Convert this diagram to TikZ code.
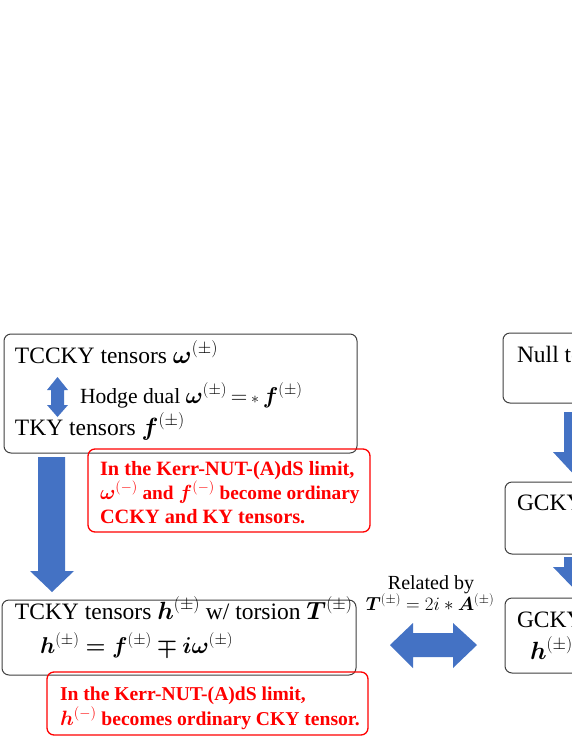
\documentclass[tikz,border=0pt]{standalone}
\usepackage{amsmath,bm}
\usepackage{fontspec}
\setmainfont{Liberation Serif}
\definecolor{arrowblue}{HTML}{4472C4}
\definecolor{boxgray}{HTML}{404040}
\definecolor{limitred}{HTML}{FF0000}
\tikzset{
  every node/.style={inner sep=0pt, outer sep=0pt},
  boxstyle/.style={draw=boxgray, line width=1pt, rounded corners=7pt, anchor=north west},
  redbox/.style={draw=limitred, line width=1.3pt, rounded corners=7pt, anchor=north west},
  txt/.style={anchor=base west, font=\fontsize{23.5}{28}\selectfont},
  redtxt/.style={anchor=base west, text=limitred, font=\fontsize{20.3}{24}\selectfont\bfseries},
  redtxtb/.style={anchor=base west, text=limitred, font=\fontsize{19.6}{24}\selectfont\bfseries},
  smalltxt/.style={anchor=base, font=\fontsize{20}{23}\selectfont},
  mathtxt/.style={anchor=base, font=\fontsize{23.5}{28}\selectfont},
  blockarrow/.style={fill=arrowblue, draw=none}
}
\begin{document}
\begin{tikzpicture}[x=1pt,y=-1pt]
\useasboundingbox (0,0) rectangle (572,740);
\clip (0,0) rectangle (572,740);
\fill[white] (0,0) rectangle (572,740);

% left boxes
\node[boxstyle, minimum width=353pt, minimum height=119pt] (b1) at (4,334) {};
\node[txt] (t1) at (15,363) {TCCKY tensors $\bm{\omega}^{(\pm)}$};
\node[txt] (t2) at (80,403) {\scalebox{0.92}{Hodge dual $\bm{\omega}^{(\pm)}\,{=}\,{\scriptstyle\ast}\,\bm{f}^{(\pm)}$}};
\node[txt] (t3) at (15,435) {TKY tensors $\bm{f}^{(\pm)}$};

% Hodge double arrow
\fill[blockarrow] (57.5,377) -- (68,390) -- (64,390) -- (64,405) -- (68,405) -- (57.5,417)
  -- (47,405) -- (51,405) -- (51,390) -- (47,390) -- cycle;

% red box 1
\node[redbox, minimum width=282pt, minimum height=83pt] (r1) at (88,449) {};
\node[redtxt] (r1a) at (100,475) {In the Kerr-NUT-(A)dS limit,};
\node[redtxtb] (r1b) at (100,499) {\scalebox{0.985}{$\bm{\omega}^{(-)}$ and $\bm{f}^{(-)}$ become ordinary}};
\node[redtxt] (r1c) at (100,523) {CCKY and KY tensors.};

% big down arrow
\fill[blockarrow] (38,457) -- (65,457) -- (65,571) -- (74,571) -- (52,592) -- (30,571) -- (38,571) -- cycle;

% box 2
\node[boxstyle, minimum width=354pt, minimum height=75pt] (b2) at (2,600) {};
\node[txt] (t4) at (15,619) {TCKY tensors $\bm{h}^{(\pm)}$ w/ torsion $\bm{T}^{(\pm)}$};
\node[txt] (t5) at (40,653) {\scalebox{0.92}{$\bm{h}^{(\pm)} \bm{=} \bm{f}^{(\pm)} \bm{\mp} \bm{i}\bm{\omega}^{(\pm)}$}};

% red box 2
\node[redbox, minimum width=321pt, minimum height=63pt] (r2) at (47,672) {};
\node[redtxtb] (r2a) at (60,700) {In the Kerr-NUT-(A)dS limit,};
\node[redtxtb] (r2b) at (60,725) {$\bm{h}^{(-)}$ becomes ordinary CKY tensor.};

% relation label
\node[smalltxt] (rel1) at (431,589) {Related by};
\node[mathtxt] (rel2) at (430,610) {\scalebox{0.76}{$\bm{T}^{(\pm)} = 2i \ast \bm{A}^{(\pm)}$}};

% horizontal double arrow
\fill[blockarrow] (390,645) -- (413,623) -- (413,633) -- (453,633) -- (453,623) -- (477,645)
  -- (453,668) -- (453,657) -- (413,657) -- (413,668) -- cycle;

% right boxes (cut off)
\node[boxstyle, minimum width=160pt, minimum height=70pt] (n1) at (503,333) {};
\node[txt] (t6) at (517,362) {Null te};
\node[boxstyle, minimum width=160pt, minimum height=72pt] (g1) at (505,482) {};
\node[txt] (t7) at (517,510) {GCKY};
\node[boxstyle, minimum width=160pt, minimum height=75pt] (g2) at (505,598) {};
\node[txt] (t8) at (517,627) {GCKY};
\node[txt] (t9) at (530,659) {$\bm{h}^{(\pm)}$};

% right down arrows
\fill[blockarrow] (564,412) -- (594,412) -- (594,452) -- (605,452) -- (579,480) -- (553,452) -- (564,452) -- cycle;
\fill[blockarrow] (564,557) -- (594,557) -- (594,567) -- (605,567) -- (579,594) -- (553,567) -- (564,567) -- cycle;
\end{tikzpicture}
\end{document}
